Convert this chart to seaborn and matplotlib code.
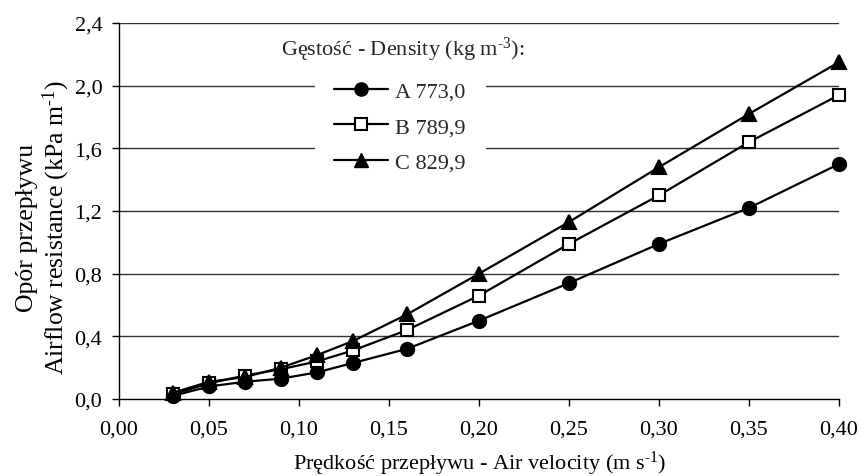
import numpy as np
import pandas as pd
import matplotlib
matplotlib.use("Agg")
import matplotlib.pyplot as plt
import seaborn as sns
from matplotlib.patches import Rectangle
from matplotlib.lines import Line2D
from matplotlib.ticker import FuncFormatter

velocity = [0.03, 0.05, 0.07, 0.09, 0.11, 0.13, 0.16, 0.20, 0.25, 0.30, 0.35, 0.40]
series_a = [0.02, 0.08, 0.11, 0.13, 0.17, 0.23, 0.32, 0.50, 0.74, 0.99, 1.22, 1.50]
series_b = [0.03, 0.10, 0.15, 0.19, 0.24, 0.31, 0.44, 0.66, 0.99, 1.30, 1.64, 1.94]
series_c = [0.04, 0.11, 0.14, 0.20, 0.28, 0.37, 0.54, 0.80, 1.13, 1.48, 1.82, 2.15]
labels = ["A 773,0", "B 789,9", "C 829,9"]
x_ticks = [0.00, 0.05, 0.10, 0.15, 0.20, 0.25, 0.30, 0.35, 0.40]
y_ticks = [0.0, 0.4, 0.8, 1.2, 1.6, 2.0, 2.4]

df = pd.DataFrame({
    "v": velocity * 3,
    "r": series_a + series_b + series_c,
    "s": [labels[0]] * 12 + [labels[1]] * 12 + [labels[2]] * 12,
})

sns.set_theme(style="white")
plt.rcParams["font.family"] = ["Liberation Serif", "DejaVu Serif"]
plt.rcParams["mathtext.fontset"] = "custom"
plt.rcParams["mathtext.rm"] = "Liberation Serif"
plt.rcParams["mathtext.it"] = "Liberation Serif"
fs = 16
ms = 9.5
lw = 1.6

fig = plt.figure(figsize=(8.65, 4.77), dpi=100)
ax = fig.add_axes([119 / 865, 1 - 400 / 477, 720 / 865, 376 / 477])

for y in y_ticks[1:]:
    ax.axhline(y, color="#333333", lw=1.0, zorder=1)

# white box behind legend
ax.add_patch(Rectangle((0.272, 0.55), 0.238, 0.32, transform=ax.transAxes,
                       facecolor="white", edgecolor="none", zorder=2))

markers = {labels[0]: "o", labels[1]: "s", labels[2]: "^"}
sns.lineplot(data=df, x="v", y="r", hue="s", style="s",
             palette=["black"] * 3, markers=markers, dashes=False,
             markersize=ms, linewidth=lw, ax=ax, legend=False, zorder=3)

for line, lab in zip(ax.get_lines()[-3:], labels):
    line.set_clip_on(False)
    line.set_markeredgecolor("black")
    line.set_markeredgewidth(1.5)
    if lab.startswith("B"):
        line.set_markerfacecolor("white")
        line.set_markersize(ms - 0.5)
    else:
        line.set_markerfacecolor("black")

handles = [
    Line2D([], [], color="black", lw=lw, marker="o", markersize=ms,
           markerfacecolor="black", markeredgecolor="black"),
    Line2D([], [], color="black", lw=lw, marker="s", markersize=ms - 0.5,
           markerfacecolor="white", markeredgecolor="black", markeredgewidth=1.5),
    Line2D([], [], color="black", lw=lw, marker="^", markersize=ms,
           markerfacecolor="black", markeredgecolor="black"),
]
leg = ax.legend(handles, labels, loc="upper left", bbox_to_anchor=(0.2986, 0.846),
                frameon=False, fontsize=fs, handlelength=2.43, handletextpad=0.3,
                labelspacing=0.68, borderpad=0, borderaxespad=0)
leg.set_zorder(5)

ax.text(0.225, 0.931, r"Gęstość - Density (kg m$^{\text{-3}}$):", transform=ax.transAxes,
        fontsize=fs, va="center", ha="left", zorder=5)

ax.set_xlim(0, 0.40)
ax.set_ylim(0, 2.4)
ax.set_xticks(x_ticks)
ax.set_yticks(y_ticks)
ax.set_xlabel("")
ax.set_ylabel("")
ax.xaxis.set_major_formatter(FuncFormatter(lambda v, p: f"{v:.2f}".replace(".", ",")))
ax.yaxis.set_major_formatter(FuncFormatter(lambda v, p: f"{v:.1f}".replace(".", ",")))
ax.tick_params(axis="both", direction="out", length=5, width=1, color="black",
               labelsize=fs, colors="black", bottom=True, left=True)
ax.tick_params(axis="x", pad=10)
ax.tick_params(axis="y", pad=7)
for side in ["top", "right"]:
    ax.spines[side].set_visible(False)
for side in ["left", "bottom"]:
    ax.spines[side].set_color("black")
    ax.spines[side].set_linewidth(1.0)

fig.text(480 / 865, 1 - 464 / 477, r"Prędkość przepływu - Air velocity (m s$^{\text{-1}}$)",
         fontsize=fs, color="black", ha="center", va="center")
fig.text(44 / 865, 1 - 228 / 477, "Opór przepływu\n" + r"Airflow resistance (kPa m$^{\text{-1}}$)",
         fontsize=18.5, color="black", ha="center", va="center", rotation=90,
         linespacing=1.15, multialignment="center")

fig.savefig("out.png", dpi=100)
